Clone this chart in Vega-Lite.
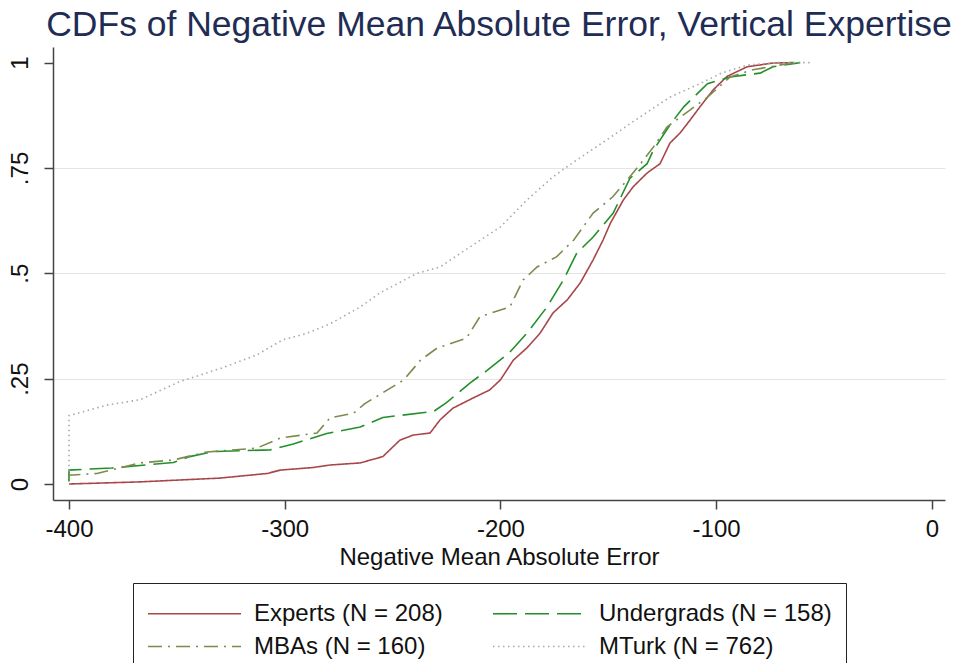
{
  "$schema": "https://vega.github.io/schema/vega-lite/v6.json",
  "width": 892,
  "height": 453,
  "autosize": {"type": "none"},
  "padding": {"left": 53, "top": 47, "right": 18, "bottom": 163},
  "background": "white",
  "title": {
    "text": "CDFs of Negative Mean Absolute Error, Vertical Expertise",
    "font": "Liberation Sans",
    "fontSize": 35.5,
    "fontWeight": "normal",
    "color": "#1f2d55",
    "anchor": "middle",
    "offset": 4
  },
  "config": {
    "view": {"stroke": null},
    "font": "Liberation Sans",
    "axis": {
      "labelFont": "Liberation Sans",
      "titleFont": "Liberation Sans",
      "labelFontSize": 24,
      "titleFontSize": 24,
      "titleFontWeight": "normal",
      "labelColor": "#111",
      "titleColor": "#111",
      "domainColor": "#444",
      "tickColor": "#444",
      "domainWidth": 1.5,
      "tickWidth": 1.5,
      "tickSize": 9
    },
    "legend": {
      "labelFont": "Liberation Sans",
      "labelFontSize": 24,
      "labelColor": "#111"
    }
  },
  "data": {
    "values": [
      {"g": "Experts (N = 208)", "x": -400, "y": 0.0},
      {"g": "Experts (N = 208)", "x": -367, "y": 0.005},
      {"g": "Experts (N = 208)", "x": -330, "y": 0.014},
      {"g": "Experts (N = 208)", "x": -308, "y": 0.025},
      {"g": "Experts (N = 208)", "x": -302, "y": 0.033},
      {"g": "Experts (N = 208)", "x": -287, "y": 0.039},
      {"g": "Experts (N = 208)", "x": -279, "y": 0.045},
      {"g": "Experts (N = 208)", "x": -265, "y": 0.05},
      {"g": "Experts (N = 208)", "x": -254.5, "y": 0.065},
      {"g": "Experts (N = 208)", "x": -246.6, "y": 0.104},
      {"g": "Experts (N = 208)", "x": -240.5, "y": 0.116},
      {"g": "Experts (N = 208)", "x": -232.6, "y": 0.121},
      {"g": "Experts (N = 208)", "x": -228, "y": 0.152},
      {"g": "Experts (N = 208)", "x": -222, "y": 0.18},
      {"g": "Experts (N = 208)", "x": -212.7, "y": 0.204},
      {"g": "Experts (N = 208)", "x": -205, "y": 0.223},
      {"g": "Experts (N = 208)", "x": -200, "y": 0.247},
      {"g": "Experts (N = 208)", "x": -194, "y": 0.294},
      {"g": "Experts (N = 208)", "x": -187.7, "y": 0.323},
      {"g": "Experts (N = 208)", "x": -181.6, "y": 0.358},
      {"g": "Experts (N = 208)", "x": -175.6, "y": 0.406},
      {"g": "Experts (N = 208)", "x": -169, "y": 0.437},
      {"g": "Experts (N = 208)", "x": -163, "y": 0.477},
      {"g": "Experts (N = 208)", "x": -157, "y": 0.532},
      {"g": "Experts (N = 208)", "x": -152.4, "y": 0.579},
      {"g": "Experts (N = 208)", "x": -149, "y": 0.619},
      {"g": "Experts (N = 208)", "x": -143, "y": 0.674},
      {"g": "Experts (N = 208)", "x": -138.5, "y": 0.705},
      {"g": "Experts (N = 208)", "x": -132, "y": 0.738},
      {"g": "Experts (N = 208)", "x": -126, "y": 0.76},
      {"g": "Experts (N = 208)", "x": -121.4, "y": 0.809},
      {"g": "Experts (N = 208)", "x": -116.7, "y": 0.833},
      {"g": "Experts (N = 208)", "x": -112, "y": 0.864},
      {"g": "Experts (N = 208)", "x": -107.5, "y": 0.895},
      {"g": "Experts (N = 208)", "x": -101.4, "y": 0.935},
      {"g": "Experts (N = 208)", "x": -95, "y": 0.967},
      {"g": "Experts (N = 208)", "x": -85.7, "y": 0.99},
      {"g": "Experts (N = 208)", "x": -73.6, "y": 0.999},
      {"g": "Experts (N = 208)", "x": -64, "y": 1.0},

      {"g": "Undergrads (N = 158)", "x": -400, "y": 0.006},
      {"g": "Undergrads (N = 158)", "x": -400, "y": 0.033},
      {"g": "Undergrads (N = 158)", "x": -380, "y": 0.038},
      {"g": "Undergrads (N = 158)", "x": -351.6, "y": 0.051},
      {"g": "Undergrads (N = 158)", "x": -344, "y": 0.065},
      {"g": "Undergrads (N = 158)", "x": -333, "y": 0.077},
      {"g": "Undergrads (N = 158)", "x": -306.8, "y": 0.081},
      {"g": "Undergrads (N = 158)", "x": -296, "y": 0.095},
      {"g": "Undergrads (N = 158)", "x": -280.5, "y": 0.12},
      {"g": "Undergrads (N = 158)", "x": -265, "y": 0.135},
      {"g": "Undergrads (N = 158)", "x": -254.5, "y": 0.158},
      {"g": "Undergrads (N = 158)", "x": -231, "y": 0.172},
      {"g": "Undergrads (N = 158)", "x": -225, "y": 0.193},
      {"g": "Undergrads (N = 158)", "x": -214, "y": 0.24},
      {"g": "Undergrads (N = 158)", "x": -206, "y": 0.27},
      {"g": "Undergrads (N = 158)", "x": -195.6, "y": 0.313},
      {"g": "Undergrads (N = 158)", "x": -187.7, "y": 0.358},
      {"g": "Undergrads (N = 158)", "x": -178.4, "y": 0.42},
      {"g": "Undergrads (N = 158)", "x": -170.8, "y": 0.484},
      {"g": "Undergrads (N = 158)", "x": -164.6, "y": 0.548},
      {"g": "Undergrads (N = 158)", "x": -157, "y": 0.586},
      {"g": "Undergrads (N = 158)", "x": -147.7, "y": 0.643},
      {"g": "Undergrads (N = 158)", "x": -140, "y": 0.725},
      {"g": "Undergrads (N = 158)", "x": -132, "y": 0.76},
      {"g": "Undergrads (N = 158)", "x": -129, "y": 0.793},
      {"g": "Undergrads (N = 158)", "x": -121, "y": 0.855},
      {"g": "Undergrads (N = 158)", "x": -115, "y": 0.895},
      {"g": "Undergrads (N = 158)", "x": -104, "y": 0.95},
      {"g": "Undergrads (N = 158)", "x": -93.5, "y": 0.966},
      {"g": "Undergrads (N = 158)", "x": -79.6, "y": 0.975},
      {"g": "Undergrads (N = 158)", "x": -73.6, "y": 0.99},
      {"g": "Undergrads (N = 158)", "x": -61, "y": 1.0},

      {"g": "MBAs (N = 160)", "x": -400, "y": 0.015},
      {"g": "MBAs (N = 160)", "x": -400, "y": 0.021},
      {"g": "MBAs (N = 160)", "x": -387, "y": 0.025},
      {"g": "MBAs (N = 160)", "x": -367, "y": 0.05},
      {"g": "MBAs (N = 160)", "x": -351.6, "y": 0.057},
      {"g": "MBAs (N = 160)", "x": -336, "y": 0.076},
      {"g": "MBAs (N = 160)", "x": -313, "y": 0.085},
      {"g": "MBAs (N = 160)", "x": -302, "y": 0.109},
      {"g": "MBAs (N = 160)", "x": -285, "y": 0.121},
      {"g": "MBAs (N = 160)", "x": -279, "y": 0.157},
      {"g": "MBAs (N = 160)", "x": -268, "y": 0.168},
      {"g": "MBAs (N = 160)", "x": -263, "y": 0.19},
      {"g": "MBAs (N = 160)", "x": -244.8, "y": 0.247},
      {"g": "MBAs (N = 160)", "x": -237, "y": 0.294},
      {"g": "MBAs (N = 160)", "x": -229.5, "y": 0.322},
      {"g": "MBAs (N = 160)", "x": -215.7, "y": 0.346},
      {"g": "MBAs (N = 160)", "x": -209.5, "y": 0.397},
      {"g": "MBAs (N = 160)", "x": -195.6, "y": 0.42},
      {"g": "MBAs (N = 160)", "x": -189.5, "y": 0.484},
      {"g": "MBAs (N = 160)", "x": -183, "y": 0.515},
      {"g": "MBAs (N = 160)", "x": -174, "y": 0.539},
      {"g": "MBAs (N = 160)", "x": -166, "y": 0.579},
      {"g": "MBAs (N = 160)", "x": -157, "y": 0.643},
      {"g": "MBAs (N = 160)", "x": -148, "y": 0.681},
      {"g": "MBAs (N = 160)", "x": -140, "y": 0.729},
      {"g": "MBAs (N = 160)", "x": -135, "y": 0.76},
      {"g": "MBAs (N = 160)", "x": -129, "y": 0.8},
      {"g": "MBAs (N = 160)", "x": -122.8, "y": 0.847},
      {"g": "MBAs (N = 160)", "x": -112, "y": 0.888},
      {"g": "MBAs (N = 160)", "x": -104, "y": 0.918},
      {"g": "MBAs (N = 160)", "x": -93.5, "y": 0.966},
      {"g": "MBAs (N = 160)", "x": -83, "y": 0.983},
      {"g": "MBAs (N = 160)", "x": -75, "y": 0.99},
      {"g": "MBAs (N = 160)", "x": -64, "y": 1.0},

      {"g": "MTurk (N = 762)", "x": -400, "y": 0.03},
      {"g": "MTurk (N = 762)", "x": -400, "y": 0.162},
      {"g": "MTurk (N = 762)", "x": -382.6, "y": 0.187},
      {"g": "MTurk (N = 762)", "x": -367, "y": 0.2},
      {"g": "MTurk (N = 762)", "x": -348.6, "y": 0.243},
      {"g": "MTurk (N = 762)", "x": -328.6, "y": 0.276},
      {"g": "MTurk (N = 762)", "x": -313, "y": 0.306},
      {"g": "MTurk (N = 762)", "x": -301, "y": 0.342},
      {"g": "MTurk (N = 762)", "x": -290, "y": 0.357},
      {"g": "MTurk (N = 762)", "x": -279, "y": 0.38},
      {"g": "MTurk (N = 762)", "x": -265, "y": 0.42},
      {"g": "MTurk (N = 762)", "x": -256, "y": 0.453},
      {"g": "MTurk (N = 762)", "x": -238.6, "y": 0.5},
      {"g": "MTurk (N = 762)", "x": -228, "y": 0.515},
      {"g": "MTurk (N = 762)", "x": -214, "y": 0.563},
      {"g": "MTurk (N = 762)", "x": -200, "y": 0.61},
      {"g": "MTurk (N = 762)", "x": -187.7, "y": 0.674},
      {"g": "MTurk (N = 762)", "x": -175.6, "y": 0.729},
      {"g": "MTurk (N = 762)", "x": -164.6, "y": 0.769},
      {"g": "MTurk (N = 762)", "x": -150.6, "y": 0.817},
      {"g": "MTurk (N = 762)", "x": -138.5, "y": 0.86},
      {"g": "MTurk (N = 762)", "x": -121.4, "y": 0.918},
      {"g": "MTurk (N = 762)", "x": -107.5, "y": 0.95},
      {"g": "MTurk (N = 762)", "x": -98, "y": 0.974},
      {"g": "MTurk (N = 762)", "x": -85.7, "y": 0.994},
      {"g": "MTurk (N = 762)", "x": -71.8, "y": 1.0},
      {"g": "MTurk (N = 762)", "x": -56.5, "y": 1.0}
    ]
  },
  "mark": {"type": "line", "strokeWidth": 1.6, "clip": true},
  "encoding": {
    "x": {
      "field": "x",
      "type": "quantitative",
      "scale": {"domain": [-407.4, 6.1], "nice": false, "zero": false},
      "axis": {
        "values": [-400, -300, -200, -100, 0],
        "labelExpr": "'' + datum.value",
        "title": "Negative Mean Absolute Error",
        "labelPadding": 8,
        "titlePadding": 4,
        "grid": false
      }
    },
    "y": {
      "field": "y",
      "type": "quantitative",
      "scale": {"domain": [-0.038, 1.037], "nice": false, "zero": false},
      "axis": {
        "values": [0, 0.25, 0.5, 0.75, 1],
        "labelExpr": "datum.value == 0 ? '0' : datum.value == 1 ? '1' : replace(format(datum.value, '.2~f'), '0.', '.')",
        "labelAngle": -90,
        "labelPadding": 12,
        "title": null,
        "grid": true,
        "gridColor": {"condition": {"test": "datum.value > 0 && datum.value < 1", "value": "#e4e4e4"}, "value": "transparent"},
        "gridWidth": 1.2
      }
    },
    "color": {
      "field": "g",
      "type": "nominal",
      "sort": null,
      "scale": {
        "domain": ["Experts (N = 208)", "Undergrads (N = 158)", "MBAs (N = 160)", "MTurk (N = 762)"],
        "range": ["#a8474a", "#22902a", "#7d8a4e", "#a8a8a8"]
      },
      "legend": {
        "title": null,
        "values": ["Experts (N = 208)", "Undergrads (N = 158)", "MBAs (N = 160)", "MTurk (N = 762)"],
        "orient": "none",
        "direction": "horizontal",
        "legendX": 80,
        "legendY": 536,
        "columns": 2,
        "columnPadding": 46,
        "rowPadding": 4,
        "padding": 14,
        "strokeColor": "#222",
        "symbolType": "M-1,0H5",
        "symbolSize": 961,
        "symbolStrokeWidth": 1.6,
        "labelOffset": 74,
        "labelLimit": 400
      }
    },
    "strokeDash": {
      "field": "g",
      "type": "nominal",
      "sort": null,
      "scale": {
        "domain": ["Experts (N = 208)", "Undergrads (N = 158)", "MBAs (N = 160)", "MTurk (N = 762)"],
        "range": [[1, 0], [24, 8], [14, 6, 2, 6], [1.5, 3.5]]
      },
      "legend": null
    }
  }
}
